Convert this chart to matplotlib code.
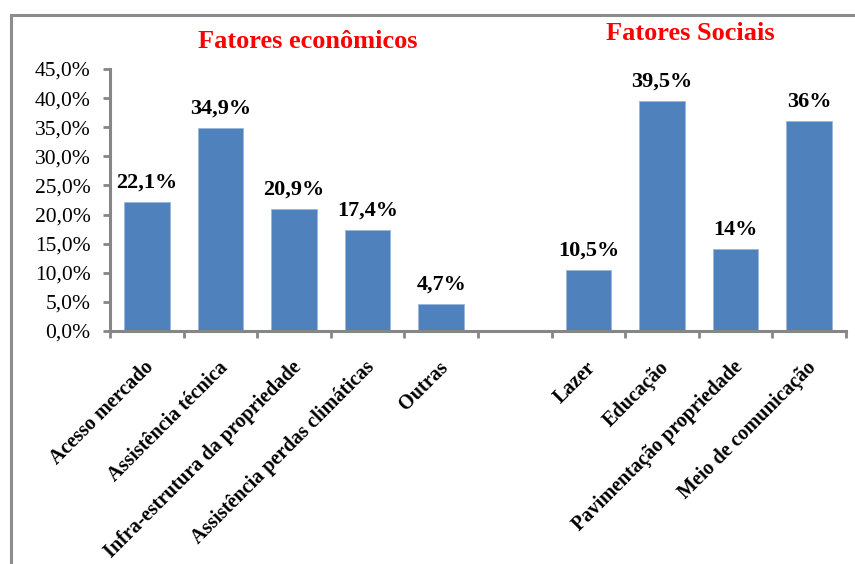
import matplotlib
matplotlib.use("Agg")
import matplotlib.pyplot as plt
from matplotlib.patches import Rectangle

categories = ["Acesso mercado", "Assistência técnica", "Infra-estrutura da propriedade",
              "Assistência perdas climáticas", "Outras", "",
              "Lazer", "Educação", "Pavimentação propriedade", "Meio de comunicação"]
values = [22.1, 34.9, 20.9, 17.4, 4.7, None, 10.5, 39.5, 14.0, 36.0]
value_labels = ["22,1%", "34,9%", "20,9%", "17,4%", "4,7%", "",
                "10,5%", "39,5%", "14%", "36%"]
yticks = [0, 5, 10, 15, 20, 25, 30, 35, 40, 45]
ytick_labels = ["0,0%", "5,0%", "10,0%", "15,0%", "20,0%", "25,0%",
                "30,0%", "35,0%", "40,0%", "45,0%"]
group_titles = ["Fatores econômicos", "Fatores Sociais"]

plt.rcParams["font.family"] = ["Liberation Serif", "DejaVu Serif"]

W, H = 855, 564
fig = plt.figure(figsize=(W / 100, H / 100), dpi=100)
fig.patch.set_facecolor("white")

# outer chart frame
fig.patches.append(Rectangle((11 / W, -0.1), 1.2, (564 - 15) / H + 0.1,
                             transform=fig.transFigure, fill=False,
                             edgecolor="#8c8c8c", linewidth=2.2))

ax = fig.add_axes([110 / W, 1 - 331 / H, (846 - 110) / W, (331 - 69) / H])
ax.set_facecolor("none")

gray = "#868686"
xs = [i for i, v in enumerate(values) if v is not None]
hs = [values[i] for i in xs]
ax.bar(xs, hs, width=0.62, color="#4F81BD", edgecolor="#9bb7db", linewidth=0.6)

for i in xs:
    ax.text(i, values[i] + 1.6, value_labels[i], ha="center", va="bottom",
            fontsize=16, fontweight="bold", color="black")

ax.set_xlim(-0.5, len(categories) - 0.5)
ax.set_ylim(0, 45)
ax.set_yticks(yticks)
ax.set_yticklabels(ytick_labels, fontsize=15.5)

ax.set_xticks([i - 0.5 for i in range(len(categories) + 1)])
ax.set_xticklabels([])
ax.tick_params(axis="x", length=5, width=2, color=gray, direction="out")
ax.tick_params(axis="y", length=5, width=2, color=gray, direction="out", pad=9)

for i, lab in enumerate(categories):
    if lab:
        ax.annotate(lab, xy=(i, 0), xycoords="data", xytext=(-2, -19),
                    textcoords="offset points", rotation=45, ha="right", va="top",
                    rotation_mode="anchor", fontsize=14.5, fontweight="bold")

for s in ["top", "right"]:
    ax.spines[s].set_visible(False)
for s in ["left", "bottom"]:
    ax.spines[s].set_color(gray)
    ax.spines[s].set_linewidth(2.2)

fig.text(308 / W, 1 - 42 / H, group_titles[0], ha="center", va="center",
         fontsize=19, fontweight="bold", color="#ff0000")
fig.text(690 / W, 1 - 34 / H, group_titles[1], ha="center", va="center",
         fontsize=19, fontweight="bold", color="#ff0000")

fig.savefig("out.png", dpi=100)
